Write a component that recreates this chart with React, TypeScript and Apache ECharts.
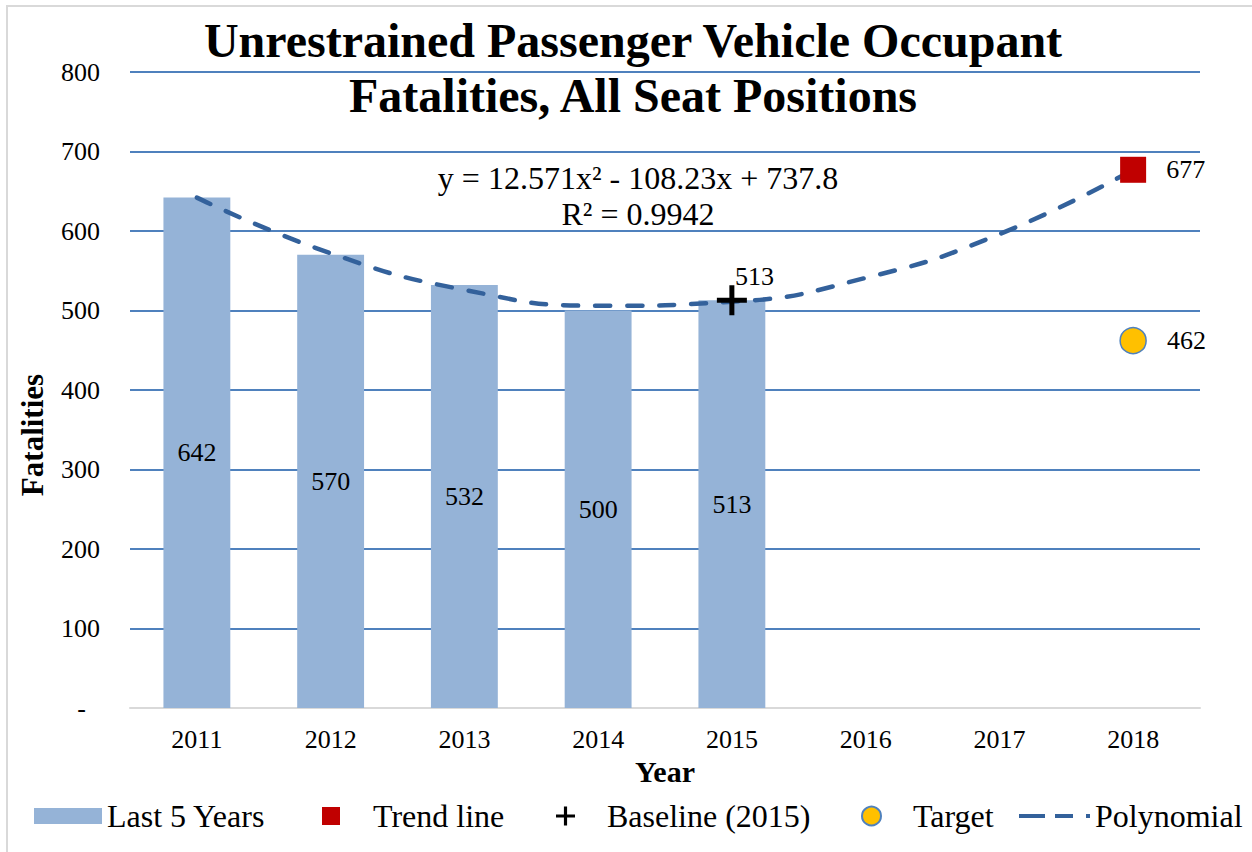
import React, { useEffect, useRef } from "react";
import * as echarts from "echarts";

const years = ["2011", "2012", "2013", "2014", "2015", "2016", "2017", "2018"];
const lastFiveYears = [642, 570, 532, 500, 513];
const polynomialValues = [642, 572, 526, 506, 511, 541, 596, 677];
const baselinePoint: [string, number] = ["2015", 513];
const trendPoint: [string, number] = ["2018", 677];
const targetPoint: [string, number] = ["2018", 462];
const yTicks = { min: 0, max: 800, interval: 100 };

const titleText = "Unrestrained Passenger Vehicle Occupant\nFatalities, All Seat Positions";
const equationText = "y = 12.571x\u00B2 - 108.23x + 737.8\nR\u00B2 = 0.9942";

const FONT = '"Liberation Serif", "Times New Roman", serif';
const PLUS = "path://M0,10H10V0H14V10H24V14H14V24H10V14H0Z";
const DASH_ICON = "path://M0,0H26V4H0Z M36,0H54V4H36Z M67,0H71V4H67Z";
const LINE_COLOR = "#33619B";

export default function App() {
  const ref = useRef<HTMLDivElement>(null);
  useEffect(() => {
    if (!ref.current) return;
    const chart = echarts.init(ref.current, null, { renderer: "svg" });
    const legendBase = {
      top: 800,
      padding: 0,
      selectedMode: false,
      textStyle: { fontFamily: FONT, fontSize: 32, color: "#000" },
    };
    const labelStyle = { fontFamily: FONT, fontSize: 26, color: "#000" };
    chart.setOption({
      animation: false,
      backgroundColor: "#fff",
      title: {
        text: titleText,
        left: 628,
        textAlign: "center",
        top: 8,
        textStyle: {
          fontFamily: FONT,
          fontSize: 48,
          fontWeight: "bold",
          color: "#000",
          lineHeight: 55,
        },
      },
      grid: { left: 130, right: 52, top: 72, bottom: 144 },
      legend: [
        { ...legendBase, left: 34, itemWidth: 68, itemHeight: 16, data: [{ name: "Last 5 Years", icon: "rect" }] },
        { ...legendBase, left: 322, itemWidth: 18, itemHeight: 18, data: [{ name: "Trend line", icon: "rect" }], textStyle: { ...legendBase.textStyle, padding: [0, 0, 0, 28] } },
        { ...legendBase, left: 556, itemWidth: 19, itemHeight: 19, data: [{ name: "Baseline (2015)", icon: PLUS }], textStyle: { ...legendBase.textStyle, padding: [0, 0, 0, 27] } },
        { ...legendBase, left: 861, itemWidth: 19, itemHeight: 19, data: [{ name: "Target", icon: "circle" }], textStyle: { ...legendBase.textStyle, padding: [0, 0, 0, 27] } },
        { ...legendBase, left: 1019, itemWidth: 71, itemHeight: 4, data: [{ name: "Polynomial", icon: DASH_ICON }], itemStyle: { color: LINE_COLOR }, textStyle: { ...legendBase.textStyle, padding: [0, 0, 0, 0] } },
      ],
      xAxis: {
        type: "category",
        data: years,
        name: "Year",
        nameLocation: "middle",
        nameGap: 44,
        nameTextStyle: { fontFamily: FONT, fontSize: 30, fontWeight: "bold", color: "#000" },
        axisLine: { lineStyle: { color: "#D9D9D9", width: 2 } },
        axisTick: { show: false },
        axisLabel: { ...labelStyle, margin: 18 },
      },
      yAxis: {
        type: "value",
        min: yTicks.min,
        max: yTicks.max,
        interval: yTicks.interval,
        name: "Fatalities",
        nameLocation: "middle",
        nameGap: 82,
        nameTextStyle: { fontFamily: FONT, fontSize: 31, fontWeight: "bold", color: "#000", padding: [0, 90, 0, 0] },
        axisLine: { show: false },
        axisTick: { show: false },
        splitLine: { lineStyle: { color: "#4F81BD", width: 2 } },
        axisLabel: {
          ...labelStyle,
          margin: 30,
          formatter: (v: number) => (v === 0 ? "{d|-}" : String(v)),
          rich: { d: { ...labelStyle, padding: [0, 14, 0, 0] } },
        },
      },
      graphic: [
        {
          type: "rect",
          shape: { x: 7, y: 6, width: 1270, height: 870 },
          style: { fill: "none", stroke: "#D9D9D9", lineWidth: 2 },
          silent: true,
        },
        {
          type: "text",
          x: 638,
          y: 196,
          style: {
            text: equationText,
            fontFamily: FONT,
            fontSize: 32,
            fill: "#000",
            align: "center",
            verticalAlign: "middle",
            lineHeight: 36,
          },
          z: 10,
        },
      ],
      series: [
        {
          name: "Last 5 Years",
          type: "bar",
          data: lastFiveYears,
          barWidth: "50%",
          itemStyle: { color: "#95B3D7" },
          label: { show: true, position: "inside", ...labelStyle },
          z: 2,
        },
        {
          name: "Polynomial",
          type: "line",
          data: polynomialValues,
          smooth: true,
          symbol: "none",
          lineStyle: { color: LINE_COLOR, width: 4.5, type: [15, 17], cap: "round" },
          itemStyle: { color: LINE_COLOR },
          z: 3,
        },
        {
          name: "Trend line",
          type: "scatter",
          data: [trendPoint],
          symbol: "rect",
          symbolSize: 26,
          itemStyle: { color: "#C00000", opacity: 1 },
          label: { show: true, position: "right", distance: 20, ...labelStyle, formatter: (p: any) => String(p.value[1]) },
          z: 4,
        },
        {
          name: "Baseline (2015)",
          type: "scatter",
          data: [baselinePoint],
          symbol: PLUS,
          symbolSize: 30,
          itemStyle: { color: "#000", opacity: 1 },
          label: { show: true, position: [18, -22], align: "left", verticalAlign: "top", ...labelStyle, formatter: (p: any) => String(p.value[1]) },
          z: 4,
        },
        {
          name: "Target",
          type: "scatter",
          data: [targetPoint],
          symbol: "circle",
          symbolSize: 26,
          itemStyle: { color: "#FFC000", borderColor: "#4F81BD", borderWidth: 1.5, opacity: 1 },
          label: { show: true, position: "right", distance: 20, ...labelStyle, formatter: (p: any) => String(p.value[1]) },
          z: 4,
        },
      ],
    });
    return () => chart.dispose();
  }, []);
  return (
    <div
      ref={ref}
      style={{ position: "fixed", left: 0, top: 0, width: 1252, height: 852, background: "#fff" }}
    />
  );
}
